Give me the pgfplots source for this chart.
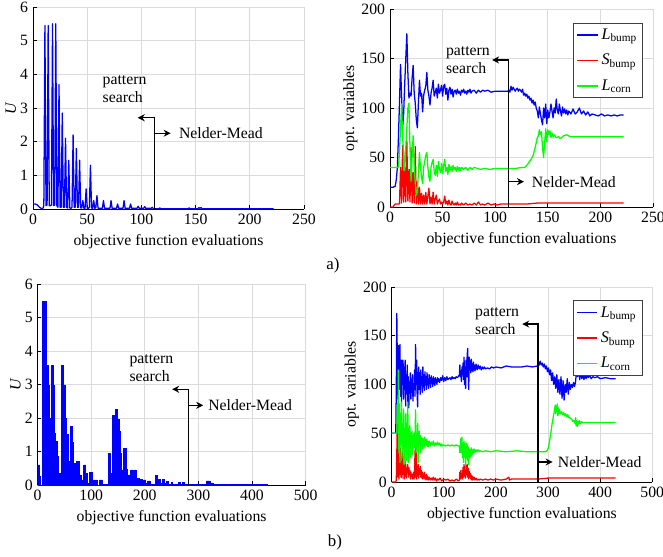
\documentclass[border=0pt]{standalone}
\usepackage{fontspec}
\setmainfont{Liberation Serif}
\usepackage{pgfplots}
\pgfplotsset{compat=1.18}
\usetikzlibrary{arrows.meta}

\newcommand{\fs}{\fontsize{11.2}{12.6}\selectfont}

\tikzset{
  arr/.style={black, line width=0.8pt, -{Stealth[length=5pt,width=5pt]}},
}
\pgfplotsset{
  panel/.style={
    scale only axis,
    anchor=south west,
    axis x line*=bottom, axis y line*=left,
    axis line style={-, black, line width=0.6pt},
    grid=major, major grid style={gray!28, line width=0.5pt},
    tick align=inside, major tick length=2.5pt,
    tick style={black, line width=0.5pt},
    tick label style={font=\fs},
    label style={font=\fs},
    ylabel shift=-4pt,
    /pgf/number format/assume math mode=true,
    xlabel={objective function evaluations},
    xmin=0, ymin=0,
    legend style={at={(0.962,0.931)}, anchor=north east, draw=black!75,
      line width=0.5pt, font=\fontsize{11.5}{13}\selectfont, inner xsep=2pt, inner ysep=2pt,
      row sep=5pt, cells={anchor=west}},
  },
  sw/.style={line width=0.9pt, line join=round},
}
\pgfplotsset{legend image code/.code={\draw[#1] (0cm,0cm) -- (0.52cm,0cm);}}

\begin{document}
\begin{tikzpicture}
\path[use as bounding box] (0,0) rectangle (16.575,13.9);

% ---------- a) U ----------
\begin{axis}[panel, at={(0.825cm,8.675cm)}, width=6.775cm, height=5.05cm,
  xmax=250, ymax=6, xtick={0,50,...,250}, ytick={0,1,...,6},
  ylabel={\textit{U}}]
\addplot[sw, color=blue] coordinates {
(0,0.15)(2,0.15)(4,0.12)(6,0.05)(8,0.01)(9,0.01)(10,0.1)(11,5.45)(12,0.1)(13,0.12)
(14,5.45)(15,0.1)(16,0.1)(17,0.12)(18,5.5)(19,0.1)(20,0.12)(21,5.5)(22,0.1)(23,0.05)
(24,3.7)(25,0.05)(26,0.05)(27,2.85)(28,0.05)(29,0.05)(30,2.1)(31,0.05)(32,0.03)(33,1.45)
(34,0.03)(35,0.02)(36,0.05)(37,2.2)(38,0.05)(39,0.05)(40,1.8)(41,0.05)(42,0.05)(43,1.45)
(44,0.03)(45,0.03)(46,0.25)(47,0.02)(48,0.02)(49,0.6)(50,0.02)(51,0.02)(52,0.05)(53,1.3)
(54,0.03)(55,0.02)(56,0.25)(57,0.02)(58,0.05)(59,0.4)(60,0.02)(64,0.02)(65,0.25)(66,0.02)
(71,0.02)(72,0.25)(73,0.02)(77,0.02)(78,0.15)(79,0.02)(83,0.02)(84,0.25)(85,0.02)(89,0.02)
(90,0.15)(91,0.02)(96,0.02)(97,0.08)(98,0.02)(102,0.02)(103,0.07)(104,0.02)(109,0.02)
(110,0.05)(111,0.01)(116,0.01)(117,0.03)(118,0.01)(143,0.01)(144,0.03)(145,0.01)(152,0.01)
(153,0.04)(154,0.02)(155,0.04)(156,0.01)(222,0.01)};
\node[font=\fs, anchor=west, align=left, inner sep=0pt] at (axis cs:64,3.55) {pattern\\search};
\node[font=\fs, anchor=west, inner sep=0pt] at (axis cs:134.5,2.25) {Nelder-Mead};
\draw[arr] (axis cs:112,0) -- (axis cs:112,2.71) -- (axis cs:96.6,2.71);
\draw[arr] (axis cs:112,2.25) -- (axis cs:127,2.25);
\end{axis}

% ---------- a) variables ----------
\begin{axis}[panel, at={(9.75cm,8.725cm)}, width=6.575cm, height=4.95cm,
  xmax=250, ymax=200, xtick={0,50,...,250}, ytick={0,50,...,200},
  ylabel={opt. variables}]
\addlegendimage{draw=blue, line width=1pt}
\addlegendimage{draw=red, line width=1pt}
\addlegendimage{draw=green, line width=1pt}
\addplot[sw, color=blue, forget plot] coordinates {
(0,20)(3,20)(5,21)(6,28)(7,40)(8,70)(9,105)(10,144)(11,112)(12,80)(13,95)(14,125)(15,150)
(16,175)(17,135)(18,110)(19,115)(20,112)(21,130)(22,143)(23,115)(24,105)(25,88)(26,80)
(27,105)(28,128)(29,112)(30,115)(31,96)(32,113)(33,118)(34,122)(35,136)(36,118)(37,112)
(38,103)(39,115)(40,120)(41,128)(42,112)(43,116)(44,120)(45,110)(46,124)(47,115)(48,118)
(49,123)(50,112)(51,122)(52,124)(53,114)(54,120)(55,108)(56,118)(57,121)(58,114)(59,119)
(60,111)(61,117)(62,118)(63,114)(64,119)(65,115)(66,117)(67,113)(68,118)(69,116)(70,119)
(71,115)(72,117)(73,114)(74,118)(75,116)(76,119)(77,115)(78,117)(80,118)(82,115)(84,118)
(86,116)(88,118)(90,117)(93,118)(96,116)(100,117)(105,117)(110,117)(112,117)(113,118)
(114,116)(115,122)(116,118)(117,121)(118,119)(119,117)(120,119)(121,120)(122,117)(123,119)
(124,118)(125,116)(126,119)(127,113)(128,115)(129,112)(130,114)(131,110)(132,112)(133,108)
(134,110)(135,105)(136,108)(137,103)(138,106)(139,100)(140,97)(141,90)(142,101)(143,94)
(144,88)(145,83)(146,100)(147,90)(148,104)(149,84)(150,98)(151,90)(152,96)(153,104)(154,97)
(155,90)(156,100)(157,95)(158,109)(159,98)(160,94)(161,104)(162,97)(163,92)(164,101)
(165,95)(166,99)(167,94)(168,98)(169,93)(170,97)(172,94)(174,99)(176,94)(178,96)(180,100)
(182,94)(184,97)(186,93)(188,96)(190,92)(192,94)(195,93)(198,92)(201,94)(204,92)(207,93)
(210,92)(213,93)(216,92)(219,93)(222,93)};
\addplot[sw, color=red, forget plot] coordinates {
(0,0)(3,0)(4,2)(5,3)(9,3)(10,40)(11,4)(12,62)(13,5)(14,40)(15,5)(16,67)(17,6)(18,38)(19,5)
(20,60)(21,4)(22,35)(23,4)(24,61)(25,3)(26,25)(27,3)(28,20)(29,3)(30,14)(31,3)(32,12)(33,3)
(34,15)(35,3)(36,11)(37,19)(38,3)(39,10)(40,3)(41,15)(42,3)(43,8)(44,12)(45,3)(46,6)(47,8)
(48,3)(49,5)(50,3)(51,5)(52,11)(53,3)(54,6)(55,2)(56,7)(57,3)(58,2)(59,6)(60,3)(61,2)(62,4)
(63,2)(64,5)(65,2)(66,3)(67,2)(68,4)(70,2)(72,4)(74,2)(76,3)(78,2)(80,4)(82,2)(84,5)(86,2)
(88,3)(90,2)(93,4)(96,2)(99,3)(102,2)(105,3)(110,3)(120,3)(130,3)(140,4)(150,4)(222,4)};
\addplot[sw, color=green, forget plot] coordinates {
(0,40)(8,40)(9,55)(10,80)(11,104)(12,70)(13,55)(14,37)(15,60)(16,80)(17,100)(18,105)(19,60)
(20,26)(21,50)(22,72)(23,40)(24,25)(25,12)(26,15)(27,35)(28,55)(29,40)(30,30)(31,24)(32,40)
(33,46)(34,52)(35,55)(36,40)(37,30)(38,26)(39,40)(40,45)(41,48)(42,36)(43,32)(44,42)(45,31)
(46,46)(47,38)(48,35)(49,44)(50,34)(51,42)(52,48)(53,36)(54,40)(55,33)(56,43)(57,37)(58,41)
(59,36)(60,42)(61,38)(62,40)(63,36)(64,41)(65,37)(66,40)(67,37)(68,40)(70,38)(72,40)(74,37)
(76,40)(78,38)(80,40)(83,39)(86,38)(90,39)(95,38)(100,39)(105,39)(110,39)(115,39)(120,39)
(125,40)(128,40)(130,42)(132,45)(134,48)(136,52)(138,60)(139,65)(140,70)(141,72)(142,78)
(143,73)(144,76)(145,60)(146,50)(147,65)(148,79)(149,66)(150,78)(151,73)(152,77)(153,70)
(154,75)(155,71)(156,73)(158,70)(160,71)(162,69)(165,72)(168,73)(171,71)(175,71)(180,71)
(190,71)(200,71)(210,71)(222,71)};
\legend{\textit{L}\textsubscript{bump}, \textit{S}\textsubscript{bump}, \textit{L}\textsubscript{corn}}
\node[font=\fs, anchor=west, align=left, inner sep=0pt] at (axis cs:53,148.6) {pattern\\search};
\node[font=\fs, anchor=west, inner sep=0pt] at (axis cs:134.7,25.6) {Nelder-Mead};
\draw[arr] (axis cs:112.4,0) -- (axis cs:112.4,148.5) -- (axis cs:97,148.5);
\draw[arr] (axis cs:112.4,25.6) -- (axis cs:127.4,25.6);
\end{axis}

\node[font=\fontsize{12}{14}\selectfont] at (8.325,7.275) {a)};

% ---------- b) U ----------
\begin{axis}[panel, at={(0.94cm,1.775cm)}, width=6.7cm, height=5.02cm,
  xmax=500, ymax=6, xtick={0,100,...,500}, ytick={0,1,...,6},
  ylabel={\textit{U}}]
\addplot[const plot, fill=blue, draw=blue, line width=0.6pt] coordinates {
(0,0.6)(4.3,0.25)(6,0)(9.3,5.48)(17.3,3.56)(19.9,2.99)(21.7,2.0)(24.8,1.55)(26.7,3.56)
(29.2,2.99)(31,1.55)(34,1.3)(37,0.85)(39,0.35)(41,0.1)(42,0.35)(45.3,3.56)(48.5,2.99)
(51.6,2.0)(54,1.5)(57,0.7)(61,1.76)(64.6,1.27)(67.6,0.65)(71.5,0.05)(73,0.7)(78,0.3)(81,0.05)
(83,0.15)(86,0.6)(90,0.35)(93,0.05)(96,0.37)(102,0.15)(106,0.05)(108,0.15)(111,0)
(115,0.15)(121,0.02)(132,0.95)(135,0.35)(139,2.08)(143,1.6)(146,2.27)(149,1.95)(152,1.6)
(155,0.95)(157,0.45)(160,1.1)(165,0.47)(168,0.3)(174,0.45)(178,0.2)(181,0.45)(184,0.1)
(186,0.2)(190,0.05)(192,0.17)(196,0.05)(198,0.15)(202,0.05)(205,0.12)(210,0.02)(220,0.28)
(223,0.05)(226,0.17)(230,0.05)(233,0.17)(236,0.05)(240,0.1)(244,0.03)(249,0.08)(252,0.03)
(262,0.08)(266,0.02)(270,0.08)(274,0.02)(315,0.12)(322,0.05)(328,0.02)(429,0.02)} \closedcycle;
\node[font=\fs, anchor=west, align=left, inner sep=0pt] at (axis cs:171,3.49) {pattern\\search};
\node[font=\fs, anchor=west, inner sep=0pt] at (axis cs:318,2.38) {Nelder-Mead};
\draw[arr] (axis cs:281,0) -- (axis cs:281,2.86) -- (axis cs:251,2.86);
\draw[arr] (axis cs:281,2.38) -- (axis cs:309,2.38);
\end{axis}

% ---------- b) variables ----------
\begin{axis}[panel, at={(9.79cm,1.85cm)}, width=6.515cm, height=4.875cm,
  xmax=500, ymax=200, xtick={0,100,...,500}, ytick={0,50,...,200},
  ylabel={opt. variables}]
\addlegendimage{draw=blue, line width=1pt}
\addlegendimage{draw=red, line width=1pt}
\addlegendimage{draw=green, line width=1pt}
\addplot[sw, color=blue, forget plot] coordinates {
(0,50)(8,50)(9,95)(10,173)(11,120)(12,85)(13,140)(14,95)(15,120)(16,141)(17,88)(18,125)
(19,80)(20,125)(21,100)(22,125)(23,85)(24,118)(25,95)(26,125)(27,78)(28,110)(29,92)(30,120)
(31,80)(32,108)(33,76)(34,100)(35,95)(36,112)(37,85)(38,105)(39,92)(40,110)(41,83)(42,100)
(43,95)(44,115)(45,88)(46,141)(47,100)(48,125)(49,90)(50,77)(51,110)(52,118)(53,95)(54,112)
(55,90)(56,115)(57,100)(58,108)(59,92)(60,118)(61,98)(62,110)(63,94)(64,113)(65,100)
(66,108)(67,95)(68,112)(69,100)(70,106)(71,96)(72,110)(73,101)(74,107)(75,97)(76,109)
(77,102)(78,106)(79,98)(80,108)(81,101)(82,106)(83,99)(84,107)(85,102)(86,105)(87,100)
(88,107)(89,103)(90,106)(92,102)(94,107)(96,104)(98,109)(100,103)(102,107)(104,104)
(106,108)(108,105)(110,106)(112,107)(114,105)(116,108)(118,106)(120,107)(122,106)(124,108)
(126,107)(128,108)(130,110)(131,120)(132,108)(133,112)(134,103)(135,118)(136,110)(137,122)
(138,105)(139,128)(140,100)(141,118)(142,96)(143,125)(144,108)(145,130)(146,137)(147,112)
(148,95)(149,128)(150,115)(151,124)(152,112)(153,126)(154,114)(155,121)(156,113)(157,123)
(158,115)(159,120)(160,114)(162,121)(164,115)(166,120)(168,116)(170,119)(172,115)(174,118)
(176,116)(178,118)(180,116)(184,117)(188,116)(192,118)(196,117)(200,118)(210,117)(220,119)
(230,118)(240,118)(250,118)(260,119)(270,118)(280,119)(283,120)(285,124)(287,120)(289,122)
(291,118)(293,121)(295,116)(297,119)(299,113)(301,117)(303,110)(305,115)(307,104)(309,112)
(311,100)(313,108)(315,96)(317,110)(319,92)(321,105)(323,90)(325,108)(327,86)(329,104)
(331,84)(333,100)(335,92)(337,106)(339,90)(341,102)(343,95)(345,100)(347,97)(349,102)
(351,98)(353,103)(355,115)(357,108)(359,116)(361,105)(363,114)(365,106)(367,112)(369,105)
(371,111)(373,106)(375,110)(377,107)(380,109)(383,106)(386,108)(390,107)(395,108)(400,106)
(410,107)(420,106)(430,106)};
\addplot[sw, color=red, forget plot] coordinates {
(0,0)(8,0)(9,2)(10,30)(11,62)(12,5)(13,45)(14,3)(15,20)(16,8)(17,35)(18,5)(19,18)(20,4)
(21,30)(22,8)(23,15)(24,3)(25,34)(26,6)(27,18)(28,4)(29,14)(30,10)(31,18)(32,5)(33,15)(34,8)
(35,12)(36,3)(37,10)(38,6)(39,8)(40,3)(41,6)(42,10)(43,3)(44,8)(45,33)(46,5)(47,35)(48,3)
(49,15)(50,6)(51,18)(52,4)(53,14)(54,8)(55,16)(56,5)(57,12)(58,4)(59,10)(60,3)(61,8)(62,4)
(63,10)(64,3)(65,7)(66,2)(67,8)(68,3)(69,6)(70,2)(72,5)(74,2)(76,4)(78,2)(80,5)(82,2)(84,4)
(86,1)(88,3)(90,2)(93,4)(96,1)(100,3)(104,2)(108,3)(112,1)(116,2)(120,1)(124,3)(128,1)
(130,2)(131,10)(132,3)(133,12)(134,4)(135,8)(136,3)(137,15)(138,5)(139,18)(140,6)(141,12)
(142,4)(143,17)(144,8)(145,18)(146,5)(147,14)(148,3)(149,11)(150,5)(151,9)(152,3)(153,7)
(154,2)(155,6)(156,2)(158,5)(160,2)(162,4)(164,2)(166,3)(168,2)(170,3)(175,2)(180,3)(185,2)
(190,3)(195,2)(200,3)(210,2)(220,3)(225,5)(226,2)(230,3)(240,3)(260,3)(280,3)(300,4)(430,4)};
\addplot[sw, color=green, forget plot] coordinates {
(0,50)(10,50)(11,80)(12,60)(13,115)(14,30)(15,80)(16,20)(17,70)(18,40)(19,82)(20,25)(21,60)
(22,35)(23,75)(24,18)(25,55)(26,45)(27,70)(28,22)(29,60)(30,40)(31,82)(32,20)(33,55)(34,35)
(35,58)(36,25)(37,50)(38,45)(39,52)(40,28)(41,48)(42,42)(43,50)(44,35)(45,48)(46,74)(47,30)
(48,50)(49,35)(50,60)(51,20)(52,45)(53,52)(54,38)(55,48)(56,30)(57,46)(58,36)(59,45)(60,34)
(61,44)(62,38)(63,46)(64,35)(65,43)(66,38)(67,44)(68,37)(69,42)(70,36)(72,42)(74,37)(76,41)
(78,38)(80,42)(82,37)(84,40)(86,38)(88,41)(90,38)(92,40)(94,37)(96,39)(98,37)(100,38)
(104,37)(108,38)(112,37)(116,38)(120,37)(124,38)(128,37)(130,37)(131,30)(132,38)(133,45)
(134,30)(135,46)(136,25)(137,40)(138,20)(139,42)(140,28)(141,35)(142,18)(143,40)(144,25)
(145,38)(146,22)(147,36)(148,18)(149,34)(150,25)(151,33)(152,26)(153,35)(154,28)(155,33)
(156,29)(158,34)(160,30)(162,33)(164,31)(166,33)(168,31)(170,32)(175,31)(180,32)(190,31)
(200,32)(220,31)(240,32)(260,31)(280,31)(295,31)(298,32)(300,34)(302,38)(304,45)(306,52)
(308,60)(310,66)(312,72)(314,79)(315,70)(316,78)(317,72)(318,80)(319,68)(320,76)(321,70)
(322,74)(324,70)(326,72)(328,69)(330,71)(332,68)(334,70)(336,67)(338,69)(340,66)(342,66)
(344,65)(346,64)(348,62)(350,63)(352,60)(353,66)(354,58)(355,63)(356,57)(357,62)(358,59)
(360,63)(362,60)(364,62)(366,61)(370,61)(380,61)(400,61)(430,61)};
\legend{\textit{L}\textsubscript{bump}, \textit{S}\textsubscript{bump}, \textit{L}\textsubscript{corn}}
\node[font=\fs, anchor=west, align=left, inner sep=0pt] at (axis cs:159.8,165) {pattern\\search};
\node[font=\fs, anchor=west, inner sep=0pt] at (axis cs:318.5,20.5) {Nelder-Mead};
\draw[arr] (axis cs:281,0) -- (axis cs:281,162) -- (axis cs:250.6,162);
\draw[arr] (axis cs:281,20.5) -- (axis cs:309,20.5);
\end{axis}

\node[font=\fontsize{12}{14}\selectfont] at (8.375,0.35) {b)};
\end{tikzpicture}
\end{document}
